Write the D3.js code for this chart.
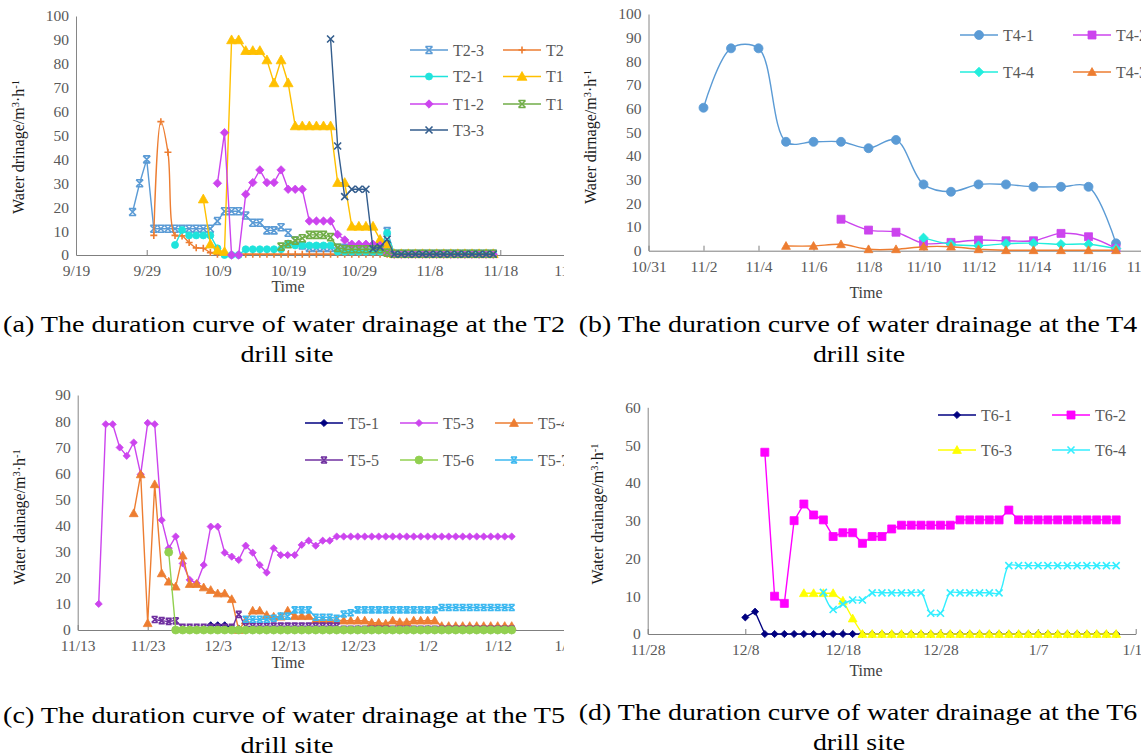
<!DOCTYPE html>
<html>
<head>
<meta charset="utf-8">
<script src="https://cdn.jsdelivr.net/npm/d3@7"></script>
<style>
  body { margin: 0; background: #fff; }
  text { font-family: "Liberation Serif", "Times New Roman", serif; }
</style>
</head>
<body>
<script>
// ---- data: daily readings, each series starts at its own date ----

// (a) T2 drill site
const aXTicks = ["2019-09-19", "2019-09-29", "2019-10-09", "2019-10-19", "2019-10-29", "2019-11-08", "2019-11-18", "2019-11-28"];
const aYTicks = [0, 10, 20, 30, 40, 50, 60, 70, 80, 90, 100];
const aT2_3 = [18, 30, 40, 11, 11, 11, 11, 11, 11, 11, 11, 11, 14.2, 18.3, 18.3, 18.3, 16.5, 13.5, 13.5, 10.3, 10.3, 11.6, 9.3,
  6, 4, 3, 3, 3, 3, 3, 3, 3, 3, 3, 2, 2, 10,
  0.5, 0.5, 0.5, 0.5, 0.5, 0.5, 0.5, 0.5, 0.5, 0.5, 0.5, 0.5, 0.5, 0.5, 0.5];
const aT2_2 = [8.2, 55.8, 43, 8.2, 8, 5.2, 3, 2.8, 1,
  0.3, 0.3, 0.3, 0.3, 0.3, 0.3, 0.3, 0.3, 0.3, 0.3, 0.3, 0.3, 0.3, 0.3, 0.3, 0.3, 0.3, 0.3, 0.3, 0.3,
  0.3, 0.3, 0.3, 0.3, 0.3, 0.3, 0.3, 0.3, 0.3, 0.3, 0.3, 0.3, 0.3, 0.3, 0.3, 0.3, 0.3, 0.3, 0.3, 0.3];
const aT2_1 = [4.2, 10.5, 8.2, 8.2, 8.2, 8.2, 2.8, 0, 0, 0, 2.4, 2.4, 2.4, 2.4, 2.4, 2.4, 4.8, 4, 4, 4, 4, 4, 4,
  1.4, 1.4, 1.4, 1.4, 1.4, 1.4, 1.4, 9.3,
  0.5, 0.5, 0.5, 0.5, 0.5, 0.5, 0.5, 0.5, 0.5, 0.5, 0.5, 0.5, 0.5, 0.5, 0.5];
const aT1_1 = [23.4, 4.5, 2, 1.4, 90, 90, 85.5, 85.5, 85.5, 81.6, 72, 81.6, 72, 54, 54, 54, 54, 54, 54, 30.3, 30.3,
  12, 12, 12, 12, 6.5, 4.5,
  0.5, 0.5, 0.5, 0.5, 0.5, 0.5, 0.5, 0.5, 0.5, 0.5, 0.5, 0.5, 0.5, 0.5, 0.5];
const aT1_2 = [30, 51.2, 0, 0, 25.4, 30.3, 35.6, 30.3, 30.3, 35.6, 27.5, 27.5, 27.5, 14.2, 14.2, 14.2, 14.2, 8.6, 6.3,
  4.5, 4.5, 4.5, 4.5, 4, 1,
  0.3, 0.3, 0.3, 0.3, 0.3, 0.3, 0.3, 0.3, 0.3, 0.3, 0.3, 0.3, 0.3, 0.3, 0.3];
const aT1_3 = [3.5, 4.5, 6, 7, 8.4, 8.4, 8.4, 7.5, 3, 2.4, 2.4, 2.4, 2.4, 2.4, 2.4, 1,
  0.5, 0.5, 0.5, 0.5, 0.5, 0.5, 0.5, 0.5, 0.5, 0.5, 0.5, 0.5, 0.5, 0.5, 0.5];
const aT3_3 = [90.4, 45.6, 24.4, 27.5, 27.5, 27.5, 2.6, 3.3, 6.6,
  0.3, 0.3, 0.3, 0.3, 0.3, 0.3, 0.3, 0.3, 0.3, 0.3, 0.3, 0.3, 0.3, 0.3, 0.3];

// (b) T4 drill site
const bXTicks = ["2019-10-31", "2019-11-02", "2019-11-04", "2019-11-06", "2019-11-08", "2019-11-10", "2019-11-12", "2019-11-14", "2019-11-16", "2019-11-18"];
const bYTicks = [0, 10, 20, 30, 40, 50, 60, 70, 80, 90, 100];
const bT4_1 = [60.4, 85.5, 85.5, 46, 46, 46, 43.3, 46.8, 28, 24.9, 28, 28, 27, 27, 27, 3.1];
const bT4_2 = [13.3, 8.7, 7.8, 3.1, 3.5, 4.5, 4.2, 4.2, 7.3, 5.9, 1];
const bT4_4 = [5.4, 2.7, 2.1, 3, 3.2, 2.7, 2.7, 0.9];
const bT4_3 = [2, 2, 2.7, 0.6, 0.6, 1.7, 1.7, 0.6, 0.2, 0.2, 0.2, 0.2, 0.2];

// (c) T5 drill site
const cXTicks = ["2019-11-13", "2019-11-23", "2019-12-03", "2019-12-13", "2019-12-23", "2020-01-02", "2020-01-12", "2020-01-22"];
const cYTicks = [0, 10, 20, 30, 40, 50, 60, 70, 80, 90];
const cT5_1 = [1.8, 1.8, 1.8, 0.8, 0.5, 0, 0, 0, 0, 0, 0, 0, 0, 0, 0, 0, 0, 0, 0, 0, 0, 0,
  0, 0, 0, 0, 0, 0, 0, 0, 0, 0, 0, 0, 0, 0, 0, 0, 0, 0, 0, 0, 0, 0];
const cT5_3 = [10, 78.8, 78.8, 69.9, 66.7, 71.8, 59.6, 79.3, 78.8, 42.1, 31.3, 35.8, 25.5, 19.2, 17.9, 24.9, 39.6, 39.6,
  29.6, 28.1, 26.8, 32.3, 29.6, 24.9, 22, 31.3, 28.7, 28.7, 28.7, 32.6, 34.2, 32.3, 34.2, 34.2,
  35.8, 35.8, 35.8, 35.8, 35.8, 35.8, 35.8, 35.8, 35.8, 35.8, 35.8, 35.8, 35.8,
  35.8, 35.8, 35.8, 35.8, 35.8, 35.8, 35.8, 35.8, 35.8, 35.8, 35.8, 35.8, 35.8];
const cT5_4 = [44.7, 59.6, 2.6, 55.8, 21.7, 18.5, 16.6, 28.5, 17.6, 17.6, 16.3, 15.3, 14, 14, 11.8, 0,
  3.6, 7.4, 7.4, 5.7, 5.1, 5.1, 7.4, 5.3, 5.3, 5.3, 3.8, 3.8, 3.8, 3.8,
  3.6, 3.6, 3.6, 3.6, 2.8, 2.8, 2.4, 3.6, 3, 3, 3.6, 3.6, 3.6, 3.6,
  1.5, 1.5, 1.5, 1.5, 1.5, 1.5, 1.5, 1.5, 1.5, 1.5, 1.5];
const cT5_5 = [4, 3.6, 3.3, 3.5, 1, 1, 1, 1, 1, 1, 1, 1, 6,
  1.5, 1.5, 1.5, 1.5, 1.5, 1.5, 1.5, 1.5, 1.5, 1.5, 1.5, 1.5, 1.5, 1.5,
  0.3, 0.3, 0.3, 0.3, 0.3, 0.3, 0.3, 0.3, 0.3, 0.3, 0.3, 0.3, 0.3,
  0.3, 0.3, 0.3, 0.3, 0.3, 0.3, 0.3, 0.3, 0.3, 0.3, 0.3, 0.3];
const cT5_6 = [29.8, 0, 0, 0, 0, 0, 0, 0, 0, 0, 0, 0, 0, 0, 0, 0, 0, 0, 0, 0, 0, 0, 0, 0, 0,
  0, 0, 0, 0, 0, 0, 0, 0, 0, 0, 0, 0, 0, 0, 0, 0, 0, 0, 0, 0, 0, 0, 0, 0, 0];
const cT5_7 = [4.1, 4.1, 4.1, 4.1, 4.5, 5.3, 5.3, 7.7, 7.7, 7.7, 4.9, 4.9, 4.9, 4.5, 6.1, 6.6,
  7.7, 7.7, 7.7, 7.7, 7.7, 7.7, 7.7, 7.7, 7.7, 7.7, 7.7, 7.7,
  8.6, 8.6, 8.6, 8.6, 8.6, 8.6, 8.6, 8.6, 8.6, 8.6, 8.6];

// (d) T6 drill site
const dXTicks = ["2019-11-28", "2019-12-08", "2019-12-18", "2019-12-28", "2020-01-07", "2020-01-17"];
const dYTicks = [0, 10, 20, 30, 40, 50, 60];
const dT6_1 = [4.4, 5.9, 0, 0, 0, 0, 0, 0, 0, 0, 0, 0, 0, 0, 0, 0, 0, 0, 0, 0,
  0, 0, 0, 0, 0, 0, 0, 0, 0, 0, 0, 0, 0, 0, 0, 0, 0, 0, 0];
const dT6_2 = [48.1, 10, 8.1, 30, 34.4, 31.5, 30.2, 25.8, 26.8, 26.8, 24, 25.8, 25.8, 27.8,
  28.8, 28.8, 28.8, 28.8, 28.8, 28.8, 30.2, 30.2, 30.2, 30.2, 30.2, 32.8,
  30.2, 30.2, 30.2, 30.2, 30.2, 30.2, 30.2, 30.2, 30.2, 30.2, 30.2];
const dT6_3 = [10.8, 10.8, 10.8, 10.8, 8.8, 4.1, 0, 0, 0, 0, 0, 0, 0, 0, 0, 0, 0,
  0, 0, 0, 0, 0, 0, 0, 0, 0, 0, 0, 0, 0, 0, 0, 0];
const dT6_4 = [11, 6.5, 7.9, 9, 9, 10.9, 10.9, 10.9, 10.9, 10.9, 10.9, 5.5, 5.5,
  10.9, 10.9, 10.9, 10.9, 10.9, 10.9,
  18.1, 18.1, 18.1, 18.1, 18.1, 18.1, 18.1, 18.1, 18.1, 18.1, 18.1, 18.1];

const parse = d3.timeParse("%Y-%m-%d");
const fmt = d3.timeFormat("%-m/%-d");

function daily(start, values) {
  const s = parse(start);
  return values.map((v, i) => ({ date: d3.timeDay.offset(s, i), value: v }));
}

// marker shapes (s = size in px)
function markerPath(type, s) {
  const h = s / 2;
  switch (type) {
    case "circle": return `M${-h},0a${h},${h} 0 1,0 ${s},0a${h},${h} 0 1,0 ${-s},0`;
    case "square": return `M${-h},${-h}h${s}v${s}h${-s}z`;
    case "diamond": return `M0,${-h * 1.2}L${h * 1.2},0L0,${h * 1.2}L${-h * 1.2},0z`;
    case "triangle": return `M0,${-h * 1.1}L${h * 1.1},${h * 0.85}L${-h * 1.1},${h * 0.85}z`;
    case "plus": return `M${-h},0H${h}M0,${-h}V${h}`;
    case "x": return `M${-h},${-h}L${h},${h}M${-h},${h}L${h},${-h}`;
    case "asterisk": return `M${-h},${-h}L${h},${h}M${-h},${h}L${h},${-h}M${-h},${-h}H${h}M${-h},${h}H${h}`;
  }
}
const strokeOnly = new Set(["plus", "x", "asterisk"]);

function drawMarker(sel, m) {
  sel.append("path")
    .attr("d", markerPath(m.marker, m.size))
    .attr("fill", strokeOnly.has(m.marker) ? "none" : m.color)
    .attr("stroke", m.color)
    .attr("stroke-width", strokeOnly.has(m.marker) ? 1.6 : 0.8);
}

const svg = d3.select("body").append("svg")
  .attr("width", 1141).attr("height", 755);

svg.append("defs").append("clipPath").attr("id", "leftClip")
  .append("rect").attr("x", 0).attr("y", 0).attr("width", 564).attr("height", 755);

function panel(cfg) {
  const g = svg.append("g");
  if (cfg.clip) g.attr("clip-path", `url(#${cfg.clip})`);

  const x = d3.scaleTime().domain([parse(cfg.xTicks[0]), parse(cfg.xTicks[cfg.xTicks.length - 1])]).range(cfg.xRange);
  const y = d3.scaleLinear().domain([0, cfg.yTicks[cfg.yTicks.length - 1]]).range(cfg.yRange);

  // y axis
  const ya = g.append("g")
    .attr("transform", `translate(${cfg.xRange[0]},0)`)
    .call(d3.axisLeft(y).tickValues(cfg.yTicks).tickSize(0).tickPadding(7));
  ya.select(".domain").attr("stroke", "#868686");
  ya.selectAll("text").attr("fill", "#595959").style("font-size", "15.5px")
    .style("font-family", "'Liberation Serif', serif");

  // x axis (ticks pointing up)
  const xa = g.append("g")
    .attr("transform", `translate(0,${cfg.yRange[0]})`)
    .call(d3.axisBottom(x).tickValues(cfg.xTicks.map(parse)).tickFormat(fmt)
      .tickSizeInner(-5).tickSizeOuter(0).tickPadding(10));
  xa.select(".domain").attr("stroke", "#7f7f7f");
  xa.selectAll(".tick line").attr("stroke", "#7f7f7f");
  xa.selectAll("text").attr("fill", "#595959").style("font-size", "15.5px")
    .style("font-family", "'Liberation Serif', serif");

  // series
  for (const s of cfg.series) {
    const pts = daily(s.start, s.values);
    const line = d3.line()
      .x(d => x(d.date))
      .y(d => y(d.value))
      .curve(s.smooth ? d3.curveCatmullRom : d3.curveLinear);
    g.append("path")
      .datum(pts)
      .attr("fill", "none")
      .attr("stroke", s.color)
      .attr("stroke-width", 1.4)
      .attr("d", line);
    g.append("g").selectAll("g")
      .data(pts)
      .join("g")
      .attr("transform", d => `translate(${x(d.date)},${y(d.value)})`)
      .each(function () { drawMarker(d3.select(this), s); });
  }

  // legend
  const L = cfg.legend;
  cfg.series.forEach((s, i) => {
    const col = i % L.cols.length, row = Math.floor(i / L.cols.length);
    const lg = g.append("g").attr("transform", `translate(${L.cols[col]},${L.rows[row]})`);
    lg.append("line").attr("x1", 0).attr("x2", 38).attr("y1", 0).attr("y2", 0)
      .attr("stroke", s.color).attr("stroke-width", 1.4);
    drawMarker(lg.append("g").attr("transform", "translate(19,0)"), s);
    lg.append("text").attr("x", 43).attr("y", 5.5)
      .attr("fill", "#595959").style("font-size", "16px").text(s.name);
  });

  // axis titles
  const yt = g.append("text")
    .attr("transform", `translate(${cfg.yTitlePos[0]},${cfg.yTitlePos[1]}) rotate(-90)`)
    .attr("text-anchor", "middle")
    .attr("fill", "#1a1a1a")
    .style("font-size", "16px");
  yt.append("tspan").text(cfg.yTitle + "/m");
  yt.append("tspan").attr("dy", -5).style("font-size", "10.5px").text("3");
  yt.append("tspan").attr("dy", 5).text("·h");
  yt.append("tspan").attr("dy", -5).style("font-size", "10.5px").text("-1");

  g.append("text")
    .attr("x", cfg.timePos[0]).attr("y", cfg.timePos[1])
    .attr("text-anchor", "middle").attr("fill", "#404040")
    .style("font-size", "16px").text("Time");

  // caption: glyphs are wide in the source, so stretch x so line 1 spans the panel
  const lines = cfg.caption.map((c, i) => {
    const cg = svg.append("g");
    const t = cg.append("text")
      .attr("text-anchor", "middle").attr("fill", "#000")
      .style("font-size", "23px").text(c);
    return { cg, t, i };
  });
  const sx = cfg.captionWidth / lines[0].t.node().getComputedTextLength();
  lines.forEach(({ cg, i }) => {
    cg.attr("transform", `translate(${cfg.captionX[i]},${cfg.captionY[i]}) scale(${sx},1)`);
  });
}

panel({
  clip: "leftClip",
  xTicks: aXTicks, yTicks: aYTicks,
  xRange: [76, 571], yRange: [255, 16],
  series: [
    { name: "T2-3", start: "2019-09-27", values: aT2_3, color: "#5b9bd5", marker: "asterisk", size: 7 },
    { name: "T2-2", start: "2019-09-30", values: aT2_2, color: "#ed7d31", marker: "plus", size: 7, smooth: true },
    { name: "T2-1", start: "2019-10-03", values: aT2_1, color: "#1fe3dc", marker: "circle", size: 7 },
    { name: "T1-1", start: "2019-10-07", values: aT1_1, color: "#ffc000", marker: "triangle", size: 9 },
    { name: "T1-2", start: "2019-10-09", values: aT1_2, color: "#cc44ee", marker: "diamond", size: 7 },
    { name: "T1-3", start: "2019-10-18", values: aT1_3, color: "#70ad47", marker: "asterisk", size: 7 },
    { name: "T3-3", start: "2019-10-25", values: aT3_3, color: "#335d8d", marker: "x", size: 7 }
  ],
  legend: { cols: [410, 503], rows: [50, 76.5, 104, 130] },
  yTitle: "Water drinage", yTitlePos: [24, 147],
  timePos: [288, 292],
  caption: ["(a) The duration curve of water drainage at the T2", "drill site"],
  captionX: [284, 287], captionY: [332, 362], captionWidth: 562
});

panel({
  xTicks: bXTicks, yTicks: bYTicks,
  xRange: [648.5, 1143.5], yRange: [250.7, 14],
  series: [
    { name: "T4-1", start: "2019-11-02", values: bT4_1, color: "#5b9bd5", marker: "circle", size: 9, smooth: true },
    { name: "T4-2", start: "2019-11-07", values: bT4_2, color: "#cc44ee", marker: "square", size: 8, smooth: true },
    { name: "T4-4", start: "2019-11-10", values: bT4_4, color: "#22eedd", marker: "diamond", size: 8, smooth: true },
    { name: "T4-3", start: "2019-11-05", values: bT4_3, color: "#ed7d31", marker: "triangle", size: 8, smooth: true }
  ],
  legend: { cols: [960, 1073], rows: [35, 72] },
  yTitle: "Water dirnage", yTitlePos: [596, 137],
  timePos: [866, 298],
  caption: ["(b) The duration curve of water drainage at the T4", "drill site"],
  captionX: [858, 859], captionY: [332, 362], captionWidth: 559
});

panel({
  clip: "leftClip",
  xTicks: cXTicks, yTicks: cYTicks,
  xRange: [77.7, 567.7], yRange: [630, 395],
  series: [
    { name: "T5-1", start: "2019-12-02", values: cT5_1, color: "#000080", marker: "diamond", size: 6 },
    { name: "T5-3", start: "2019-11-16", values: cT5_3, color: "#cc44ee", marker: "diamond", size: 6 },
    { name: "T5-4", start: "2019-11-21", values: cT5_4, color: "#ed7d31", marker: "triangle", size: 8 },
    { name: "T5-5", start: "2019-11-24", values: cT5_5, color: "#7030a0", marker: "asterisk", size: 6, smooth: true },
    { name: "T5-6", start: "2019-11-26", values: cT5_6, color: "#92d050", marker: "circle", size: 8 },
    { name: "T5-7", start: "2019-12-07", values: cT5_7, color: "#3cb8f0", marker: "asterisk", size: 6 }
  ],
  legend: { cols: [305, 400, 495], rows: [423, 460] },
  yTitle: "Water dainage", yTitlePos: [25, 517],
  timePos: [288, 668],
  caption: ["(c) The duration curve of water drainage at the T5", "drill site"],
  captionX: [284, 287], captionY: [723, 753], captionWidth: 562
});

panel({
  xTicks: dXTicks, yTicks: dYTicks,
  xRange: [647.7, 1135.7], yRange: [634, 407.3],
  series: [
    { name: "T6-1", start: "2019-12-08", values: dT6_1, color: "#000080", marker: "diamond", size: 6 },
    { name: "T6-2", start: "2019-12-10", values: dT6_2, color: "#ff00ff", marker: "square", size: 8 },
    { name: "T6-3", start: "2019-12-14", values: dT6_3, color: "#ffff00", marker: "triangle", size: 8 },
    { name: "T6-4", start: "2019-12-16", values: dT6_4, color: "#33eeff", marker: "x", size: 7, smooth: true }
  ],
  legend: { cols: [938, 1052], rows: [415, 450] },
  yTitle: "Water drainage", yTitlePos: [603, 514],
  timePos: [866, 676],
  caption: ["(d) The duration curve of water drainage at the T6", "drill site"],
  captionX: [858, 859], captionY: [720, 750], captionWidth: 559
});
</script>
</body>
</html>
